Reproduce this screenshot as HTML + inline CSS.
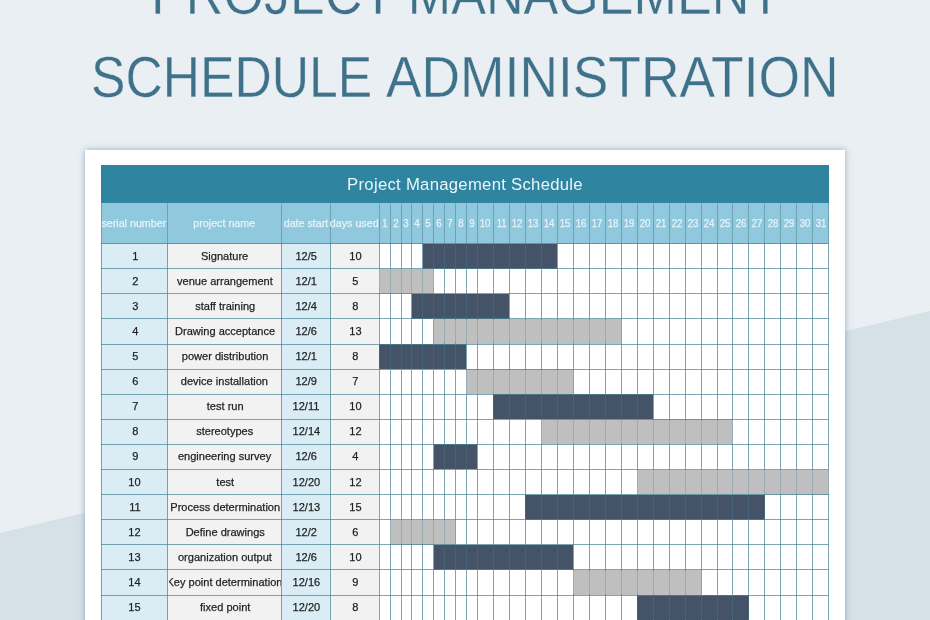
<!DOCTYPE html>
<html lang="en"><head><meta charset="utf-8"><title>Project Management Schedule Administration</title>
<style>
html,body{margin:0;padding:0}
body{width:930px;height:620px;overflow:hidden;position:relative;background:#e9eff3;font-family:"Liberation Sans",sans-serif;}
.bg{position:absolute;left:0;top:0;width:930px;height:620px}
.t{position:absolute;white-space:nowrap;color:#3f728a;font-size:57.6px;line-height:60px;transform-origin:0 0;-webkit-text-stroke:.35px #e9eff3}
.c,.hd{display:flex;justify-content:center}
.c span,.hd span{display:inline-block;flex:none;transform:scaleX(.96);-webkit-text-stroke:.25px currentColor}
.hd span{transform:scaleX(.93)}
.hd.n{font-size:11px}
.hd.n span{transform:scaleX(.88)}
.card{position:absolute;left:85px;top:150px;width:760px;height:480px;background:#fff;box-shadow:0 0 6px rgba(105,135,165,.65)}
.abs{position:absolute}
.bar{position:absolute;left:101px;top:165px;width:728px;height:38.4px;background:#2f84a0;color:#e9f6fa;font-size:16.7px;letter-spacing:.28px;line-height:40.4px;text-align:center}
.hd{position:absolute;top:203.4px;height:40.2px;line-height:41px;color:#e6f3f8;font-size:11.5px;text-align:center;white-space:nowrap;overflow:hidden}
.c{position:absolute;height:25.1px;line-height:25px;font-size:11.5px;color:#1f1f1f;text-align:center;white-space:nowrap;overflow:hidden}
</style></head><body>
<svg class="bg" viewBox="0 0 930 620"><polygon points="0,533 930,311 930,620 0,620" fill="#d5e1e7"/></svg>
<div class="t" id="t1" style="left:151.4px;top:-36px;transform:scaleX(.9048)">PROJECT MANAGEMENT</div>
<div class="t" id="t2" style="left:91.2px;top:47px;transform:scaleX(.8968)">SCHEDULE</div>
<div class="t" id="t3" style="left:386px;top:47px;transform:scaleX(.9264)">ADMINISTRATION</div>
<div class="card"></div>
<div class="bar">Project Management Schedule</div>

<div class="abs" style="left:101.0px;top:203.4px;width:727.86px;height:40.19999999999999px;background:#90c9dd"></div>
<div class="abs" style="left:101.0px;top:243.6px;width:66.5px;height:386.4px;background:#dbedf4"></div>
<div class="abs" style="left:167.5px;top:243.6px;width:113.75px;height:386.4px;background:#f2f2f2"></div>
<div class="abs" style="left:281.25px;top:243.6px;width:48.75px;height:386.4px;background:#dbedf4"></div>
<div class="abs" style="left:330.0px;top:243.6px;width:49.25px;height:386.4px;background:#f2f2f2"></div>
<div class="abs" style="left:422.83px;top:243.60px;width:134.37px;height:25.1px;background:#445467"></div>
<div class="abs" style="left:379.25px;top:268.70px;width:54.47px;height:25.1px;background:#bfbfbf"></div>
<div class="abs" style="left:411.93px;top:293.80px;width:97.33px;height:25.1px;background:#445467"></div>
<div class="abs" style="left:433.72px;top:318.90px;width:187.40px;height:25.1px;background:#bfbfbf"></div>
<div class="abs" style="left:379.25px;top:344.00px;width:87.16px;height:25.1px;background:#445467"></div>
<div class="abs" style="left:466.41px;top:369.10px;width:106.77px;height:25.1px;background:#bfbfbf"></div>
<div class="abs" style="left:493.28px;top:394.20px;width:159.80px;height:25.1px;background:#445467"></div>
<div class="abs" style="left:541.22px;top:419.30px;width:191.76px;height:25.1px;background:#bfbfbf"></div>
<div class="abs" style="left:433.72px;top:444.40px;width:43.58px;height:25.1px;background:#445467"></div>
<div class="abs" style="left:637.10px;top:469.50px;width:191.76px;height:25.1px;background:#bfbfbf"></div>
<div class="abs" style="left:525.24px;top:494.60px;width:239.70px;height:25.1px;background:#445467"></div>
<div class="abs" style="left:390.14px;top:519.70px;width:65.37px;height:25.1px;background:#bfbfbf"></div>
<div class="abs" style="left:433.72px;top:544.80px;width:139.46px;height:25.1px;background:#445467"></div>
<div class="abs" style="left:573.18px;top:569.90px;width:127.84px;height:25.1px;background:#bfbfbf"></div>
<div class="abs" style="left:637.10px;top:595.00px;width:111.86px;height:25.1px;background:#445467"></div>
<svg class="bg" viewBox="0 0 930 620" shape-rendering="auto">
<g stroke="#4a8496" stroke-width="1" stroke-opacity=".72" fill="none">
<line x1="101.50" y1="203.4" x2="101.50" y2="243" stroke-opacity=".55"/>
<line x1="101.50" y1="243" x2="101.50" y2="630"/>
<line x1="167.50" y1="203.4" x2="167.50" y2="243" stroke-opacity=".55"/>
<line x1="167.50" y1="243" x2="167.50" y2="630"/>
<line x1="281.50" y1="203.4" x2="281.50" y2="243" stroke-opacity=".55"/>
<line x1="281.50" y1="243" x2="281.50" y2="630"/>
<line x1="330.50" y1="203.4" x2="330.50" y2="243" stroke-opacity=".55"/>
<line x1="330.50" y1="243" x2="330.50" y2="630"/>
<line x1="379.50" y1="203.4" x2="379.50" y2="243" stroke-opacity=".55"/>
<line x1="379.50" y1="243" x2="379.50" y2="630"/>
<line x1="390.50" y1="203.4" x2="390.50" y2="243" stroke-opacity=".55"/>
<line x1="390.50" y1="243" x2="390.50" y2="630"/>
<line x1="401.50" y1="203.4" x2="401.50" y2="243" stroke-opacity=".55"/>
<line x1="401.50" y1="243" x2="401.50" y2="630"/>
<line x1="411.50" y1="203.4" x2="411.50" y2="243" stroke-opacity=".55"/>
<line x1="411.50" y1="243" x2="411.50" y2="630"/>
<line x1="422.50" y1="203.4" x2="422.50" y2="243" stroke-opacity=".55"/>
<line x1="422.50" y1="243" x2="422.50" y2="630"/>
<line x1="433.50" y1="203.4" x2="433.50" y2="243" stroke-opacity=".55"/>
<line x1="433.50" y1="243" x2="433.50" y2="630"/>
<line x1="444.50" y1="203.4" x2="444.50" y2="243" stroke-opacity=".55"/>
<line x1="444.50" y1="243" x2="444.50" y2="630"/>
<line x1="455.50" y1="203.4" x2="455.50" y2="243" stroke-opacity=".55"/>
<line x1="455.50" y1="243" x2="455.50" y2="630"/>
<line x1="466.50" y1="203.4" x2="466.50" y2="243" stroke-opacity=".55"/>
<line x1="466.50" y1="243" x2="466.50" y2="630"/>
<line x1="477.50" y1="203.4" x2="477.50" y2="243" stroke-opacity=".55"/>
<line x1="477.50" y1="243" x2="477.50" y2="630"/>
<line x1="493.50" y1="203.4" x2="493.50" y2="243" stroke-opacity=".55"/>
<line x1="493.50" y1="243" x2="493.50" y2="630"/>
<line x1="509.50" y1="203.4" x2="509.50" y2="243" stroke-opacity=".55"/>
<line x1="509.50" y1="243" x2="509.50" y2="630"/>
<line x1="525.50" y1="203.4" x2="525.50" y2="243" stroke-opacity=".55"/>
<line x1="525.50" y1="243" x2="525.50" y2="630"/>
<line x1="541.50" y1="203.4" x2="541.50" y2="243" stroke-opacity=".55"/>
<line x1="541.50" y1="243" x2="541.50" y2="630"/>
<line x1="557.50" y1="203.4" x2="557.50" y2="243" stroke-opacity=".55"/>
<line x1="557.50" y1="243" x2="557.50" y2="630"/>
<line x1="573.50" y1="203.4" x2="573.50" y2="243" stroke-opacity=".55"/>
<line x1="573.50" y1="243" x2="573.50" y2="630"/>
<line x1="589.50" y1="203.4" x2="589.50" y2="243" stroke-opacity=".55"/>
<line x1="589.50" y1="243" x2="589.50" y2="630"/>
<line x1="605.50" y1="203.4" x2="605.50" y2="243" stroke-opacity=".55"/>
<line x1="605.50" y1="243" x2="605.50" y2="630"/>
<line x1="621.50" y1="203.4" x2="621.50" y2="243" stroke-opacity=".55"/>
<line x1="621.50" y1="243" x2="621.50" y2="630"/>
<line x1="637.50" y1="203.4" x2="637.50" y2="243" stroke-opacity=".55"/>
<line x1="637.50" y1="243" x2="637.50" y2="630"/>
<line x1="653.50" y1="203.4" x2="653.50" y2="243" stroke-opacity=".55"/>
<line x1="653.50" y1="243" x2="653.50" y2="630"/>
<line x1="669.50" y1="203.4" x2="669.50" y2="243" stroke-opacity=".55"/>
<line x1="669.50" y1="243" x2="669.50" y2="630"/>
<line x1="685.50" y1="203.4" x2="685.50" y2="243" stroke-opacity=".55"/>
<line x1="685.50" y1="243" x2="685.50" y2="630"/>
<line x1="701.50" y1="203.4" x2="701.50" y2="243" stroke-opacity=".55"/>
<line x1="701.50" y1="243" x2="701.50" y2="630"/>
<line x1="717.50" y1="203.4" x2="717.50" y2="243" stroke-opacity=".55"/>
<line x1="717.50" y1="243" x2="717.50" y2="630"/>
<line x1="732.50" y1="203.4" x2="732.50" y2="243" stroke-opacity=".55"/>
<line x1="732.50" y1="243" x2="732.50" y2="630"/>
<line x1="748.50" y1="203.4" x2="748.50" y2="243" stroke-opacity=".55"/>
<line x1="748.50" y1="243" x2="748.50" y2="630"/>
<line x1="764.50" y1="203.4" x2="764.50" y2="243" stroke-opacity=".55"/>
<line x1="764.50" y1="243" x2="764.50" y2="630"/>
<line x1="780.50" y1="203.4" x2="780.50" y2="243" stroke-opacity=".55"/>
<line x1="780.50" y1="243" x2="780.50" y2="630"/>
<line x1="796.50" y1="203.4" x2="796.50" y2="243" stroke-opacity=".55"/>
<line x1="796.50" y1="243" x2="796.50" y2="630"/>
<line x1="812.50" y1="203.4" x2="812.50" y2="243" stroke-opacity=".55"/>
<line x1="812.50" y1="243" x2="812.50" y2="630"/>
<line x1="828.50" y1="203.4" x2="828.50" y2="243" stroke-opacity=".55"/>
<line x1="828.50" y1="243" x2="828.50" y2="630"/>
<line x1="101.0" y1="243.50" x2="828.86" y2="243.50"/>
<line x1="101.0" y1="268.50" x2="828.86" y2="268.50"/>
<line x1="101.0" y1="293.50" x2="828.86" y2="293.50"/>
<line x1="101.0" y1="318.50" x2="828.86" y2="318.50"/>
<line x1="101.0" y1="344.50" x2="828.86" y2="344.50"/>
<line x1="101.0" y1="369.50" x2="828.86" y2="369.50"/>
<line x1="101.0" y1="394.50" x2="828.86" y2="394.50"/>
<line x1="101.0" y1="419.50" x2="828.86" y2="419.50"/>
<line x1="101.0" y1="444.50" x2="828.86" y2="444.50"/>
<line x1="101.0" y1="469.50" x2="828.86" y2="469.50"/>
<line x1="101.0" y1="494.50" x2="828.86" y2="494.50"/>
<line x1="101.0" y1="519.50" x2="828.86" y2="519.50"/>
<line x1="101.0" y1="544.50" x2="828.86" y2="544.50"/>
<line x1="101.0" y1="569.50" x2="828.86" y2="569.50"/>
<line x1="101.0" y1="595.50" x2="828.86" y2="595.50"/>
<line x1="101.0" y1="620.50" x2="828.86" y2="620.50"/>
<line x1="101.0" y1="645.50" x2="828.86" y2="645.50"/>
</g></svg>
<div class="abs" style="left:422.83px;top:244.20px;width:134.37px;height:23.900000000000002px;background:rgba(68,84,103,.6)"></div>
<div class="abs" style="left:379.25px;top:269.30px;width:54.47px;height:23.900000000000002px;background:rgba(191,191,191,.55)"></div>
<div class="abs" style="left:411.93px;top:294.40px;width:97.33px;height:23.900000000000002px;background:rgba(68,84,103,.6)"></div>
<div class="abs" style="left:433.72px;top:319.50px;width:187.40px;height:23.900000000000002px;background:rgba(191,191,191,.55)"></div>
<div class="abs" style="left:379.25px;top:344.60px;width:87.16px;height:23.900000000000002px;background:rgba(68,84,103,.6)"></div>
<div class="abs" style="left:466.41px;top:369.70px;width:106.77px;height:23.900000000000002px;background:rgba(191,191,191,.55)"></div>
<div class="abs" style="left:493.28px;top:394.80px;width:159.80px;height:23.900000000000002px;background:rgba(68,84,103,.6)"></div>
<div class="abs" style="left:541.22px;top:419.90px;width:191.76px;height:23.900000000000002px;background:rgba(191,191,191,.55)"></div>
<div class="abs" style="left:433.72px;top:445.00px;width:43.58px;height:23.900000000000002px;background:rgba(68,84,103,.6)"></div>
<div class="abs" style="left:637.10px;top:470.10px;width:191.76px;height:23.900000000000002px;background:rgba(191,191,191,.55)"></div>
<div class="abs" style="left:525.24px;top:495.20px;width:239.70px;height:23.900000000000002px;background:rgba(68,84,103,.6)"></div>
<div class="abs" style="left:390.14px;top:520.30px;width:65.37px;height:23.900000000000002px;background:rgba(191,191,191,.55)"></div>
<div class="abs" style="left:433.72px;top:545.40px;width:139.46px;height:23.900000000000002px;background:rgba(68,84,103,.6)"></div>
<div class="abs" style="left:573.18px;top:570.50px;width:127.84px;height:23.900000000000002px;background:rgba(191,191,191,.55)"></div>
<div class="abs" style="left:637.10px;top:595.60px;width:111.86px;height:23.900000000000002px;background:rgba(68,84,103,.6)"></div>
<div class="hd" style="left:101.0px;width:66.5px"><span>serial number</span></div>
<div class="hd" style="left:167.5px;width:113.75px"><span>project name</span></div>
<div class="hd" style="left:281.25px;width:48.75px"><span>date start</span></div>
<div class="hd" style="left:330.0px;width:49.25px"><span>days used</span></div>
<div class="hd n" style="left:376.25px;width:16.89px;overflow:visible"><span>1</span></div>
<div class="hd n" style="left:387.14px;width:16.89px;overflow:visible"><span>2</span></div>
<div class="hd n" style="left:398.04px;width:16.89px;overflow:visible"><span>3</span></div>
<div class="hd n" style="left:408.93px;width:16.89px;overflow:visible"><span>4</span></div>
<div class="hd n" style="left:419.83px;width:16.89px;overflow:visible"><span>5</span></div>
<div class="hd n" style="left:430.72px;width:16.89px;overflow:visible"><span>6</span></div>
<div class="hd n" style="left:441.62px;width:16.89px;overflow:visible"><span>7</span></div>
<div class="hd n" style="left:452.51px;width:16.89px;overflow:visible"><span>8</span></div>
<div class="hd n" style="left:463.41px;width:16.89px;overflow:visible"><span>9</span></div>
<div class="hd n" style="left:474.30px;width:21.98px;overflow:visible"><span>10</span></div>
<div class="hd n" style="left:490.28px;width:21.98px;overflow:visible"><span>11</span></div>
<div class="hd n" style="left:506.26px;width:21.98px;overflow:visible"><span>12</span></div>
<div class="hd n" style="left:522.24px;width:21.98px;overflow:visible"><span>13</span></div>
<div class="hd n" style="left:538.22px;width:21.98px;overflow:visible"><span>14</span></div>
<div class="hd n" style="left:554.20px;width:21.98px;overflow:visible"><span>15</span></div>
<div class="hd n" style="left:570.18px;width:21.98px;overflow:visible"><span>16</span></div>
<div class="hd n" style="left:586.16px;width:21.98px;overflow:visible"><span>17</span></div>
<div class="hd n" style="left:602.14px;width:21.98px;overflow:visible"><span>18</span></div>
<div class="hd n" style="left:618.12px;width:21.98px;overflow:visible"><span>19</span></div>
<div class="hd n" style="left:634.10px;width:21.98px;overflow:visible"><span>20</span></div>
<div class="hd n" style="left:650.08px;width:21.98px;overflow:visible"><span>21</span></div>
<div class="hd n" style="left:666.06px;width:21.98px;overflow:visible"><span>22</span></div>
<div class="hd n" style="left:682.04px;width:21.98px;overflow:visible"><span>23</span></div>
<div class="hd n" style="left:698.02px;width:21.98px;overflow:visible"><span>24</span></div>
<div class="hd n" style="left:714.00px;width:21.98px;overflow:visible"><span>25</span></div>
<div class="hd n" style="left:729.98px;width:21.98px;overflow:visible"><span>26</span></div>
<div class="hd n" style="left:745.96px;width:21.98px;overflow:visible"><span>27</span></div>
<div class="hd n" style="left:761.94px;width:21.98px;overflow:visible"><span>28</span></div>
<div class="hd n" style="left:777.92px;width:21.98px;overflow:visible"><span>29</span></div>
<div class="hd n" style="left:793.90px;width:21.98px;overflow:visible"><span>30</span></div>
<div class="hd n" style="left:809.88px;width:21.98px;overflow:visible"><span>31</span></div>
<div class="c" style="left:102.0px;top:243.60px;width:65.5px"><span>1</span></div>
<div class="c" style="left:168.5px;top:243.60px;width:112.75px"><span>Signature</span></div>
<div class="c" style="left:282.25px;top:243.60px;width:47.75px"><span>12/5</span></div>
<div class="c" style="left:331.0px;top:243.60px;width:48.25px"><span>10</span></div>
<div class="c" style="left:102.0px;top:268.70px;width:65.5px"><span>2</span></div>
<div class="c" style="left:168.5px;top:268.70px;width:112.75px"><span>venue arrangement</span></div>
<div class="c" style="left:282.25px;top:268.70px;width:47.75px"><span>12/1</span></div>
<div class="c" style="left:331.0px;top:268.70px;width:48.25px"><span>5</span></div>
<div class="c" style="left:102.0px;top:293.80px;width:65.5px"><span>3</span></div>
<div class="c" style="left:168.5px;top:293.80px;width:112.75px"><span>staff training</span></div>
<div class="c" style="left:282.25px;top:293.80px;width:47.75px"><span>12/4</span></div>
<div class="c" style="left:331.0px;top:293.80px;width:48.25px"><span>8</span></div>
<div class="c" style="left:102.0px;top:318.90px;width:65.5px"><span>4</span></div>
<div class="c" style="left:168.5px;top:318.90px;width:112.75px"><span>Drawing acceptance</span></div>
<div class="c" style="left:282.25px;top:318.90px;width:47.75px"><span>12/6</span></div>
<div class="c" style="left:331.0px;top:318.90px;width:48.25px"><span>13</span></div>
<div class="c" style="left:102.0px;top:344.00px;width:65.5px"><span>5</span></div>
<div class="c" style="left:168.5px;top:344.00px;width:112.75px"><span>power distribution</span></div>
<div class="c" style="left:282.25px;top:344.00px;width:47.75px"><span>12/1</span></div>
<div class="c" style="left:331.0px;top:344.00px;width:48.25px"><span>8</span></div>
<div class="c" style="left:102.0px;top:369.10px;width:65.5px"><span>6</span></div>
<div class="c" style="left:168.5px;top:369.10px;width:112.75px"><span>device installation</span></div>
<div class="c" style="left:282.25px;top:369.10px;width:47.75px"><span>12/9</span></div>
<div class="c" style="left:331.0px;top:369.10px;width:48.25px"><span>7</span></div>
<div class="c" style="left:102.0px;top:394.20px;width:65.5px"><span>7</span></div>
<div class="c" style="left:168.5px;top:394.20px;width:112.75px"><span>test run</span></div>
<div class="c" style="left:282.25px;top:394.20px;width:47.75px"><span>12/11</span></div>
<div class="c" style="left:331.0px;top:394.20px;width:48.25px"><span>10</span></div>
<div class="c" style="left:102.0px;top:419.30px;width:65.5px"><span>8</span></div>
<div class="c" style="left:168.5px;top:419.30px;width:112.75px"><span>stereotypes</span></div>
<div class="c" style="left:282.25px;top:419.30px;width:47.75px"><span>12/14</span></div>
<div class="c" style="left:331.0px;top:419.30px;width:48.25px"><span>12</span></div>
<div class="c" style="left:102.0px;top:444.40px;width:65.5px"><span>9</span></div>
<div class="c" style="left:168.5px;top:444.40px;width:112.75px"><span>engineering survey</span></div>
<div class="c" style="left:282.25px;top:444.40px;width:47.75px"><span>12/6</span></div>
<div class="c" style="left:331.0px;top:444.40px;width:48.25px"><span>4</span></div>
<div class="c" style="left:102.0px;top:469.50px;width:65.5px"><span>10</span></div>
<div class="c" style="left:168.5px;top:469.50px;width:112.75px"><span>test</span></div>
<div class="c" style="left:282.25px;top:469.50px;width:47.75px"><span>12/20</span></div>
<div class="c" style="left:331.0px;top:469.50px;width:48.25px"><span>12</span></div>
<div class="c" style="left:102.0px;top:494.60px;width:65.5px"><span>11</span></div>
<div class="c" style="left:168.5px;top:494.60px;width:112.75px"><span>Process determination</span></div>
<div class="c" style="left:282.25px;top:494.60px;width:47.75px"><span>12/13</span></div>
<div class="c" style="left:331.0px;top:494.60px;width:48.25px"><span>15</span></div>
<div class="c" style="left:102.0px;top:519.70px;width:65.5px"><span>12</span></div>
<div class="c" style="left:168.5px;top:519.70px;width:112.75px"><span>Define drawings</span></div>
<div class="c" style="left:282.25px;top:519.70px;width:47.75px"><span>12/2</span></div>
<div class="c" style="left:331.0px;top:519.70px;width:48.25px"><span>6</span></div>
<div class="c" style="left:102.0px;top:544.80px;width:65.5px"><span>13</span></div>
<div class="c" style="left:168.5px;top:544.80px;width:112.75px"><span>organization output</span></div>
<div class="c" style="left:282.25px;top:544.80px;width:47.75px"><span>12/6</span></div>
<div class="c" style="left:331.0px;top:544.80px;width:48.25px"><span>10</span></div>
<div class="c" style="left:102.0px;top:569.90px;width:65.5px"><span>14</span></div>
<div class="c" style="left:168.5px;top:569.90px;width:112.75px"><span>Key point determination</span></div>
<div class="c" style="left:282.25px;top:569.90px;width:47.75px"><span>12/16</span></div>
<div class="c" style="left:331.0px;top:569.90px;width:48.25px"><span>9</span></div>
<div class="c" style="left:102.0px;top:595.00px;width:65.5px"><span>15</span></div>
<div class="c" style="left:168.5px;top:595.00px;width:112.75px"><span>fixed point</span></div>
<div class="c" style="left:282.25px;top:595.00px;width:47.75px"><span>12/20</span></div>
<div class="c" style="left:331.0px;top:595.00px;width:48.25px"><span>8</span></div>
</body></html>
